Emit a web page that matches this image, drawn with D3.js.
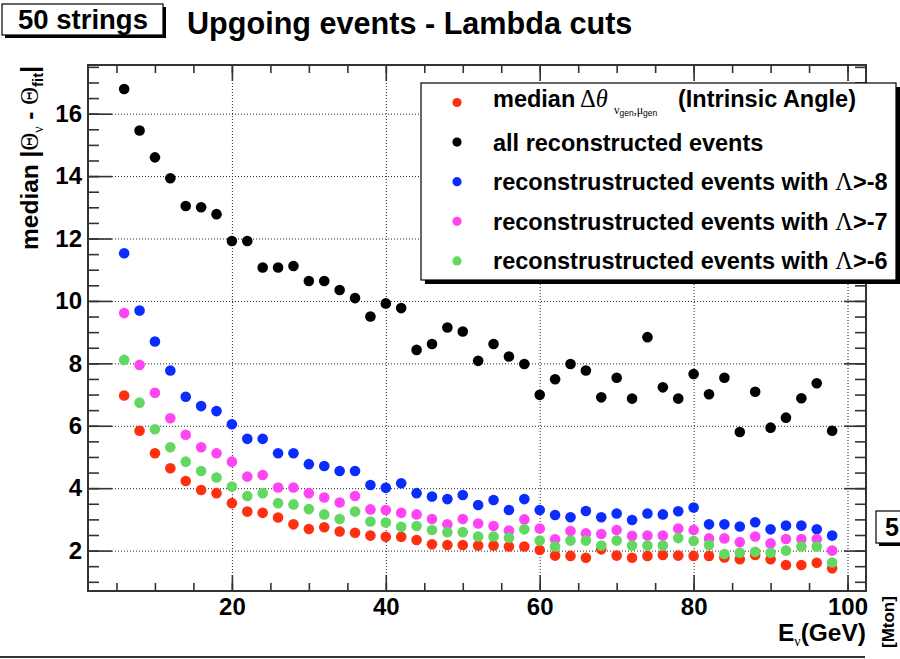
<!DOCTYPE html>
<html>
<head>
<meta charset="utf-8">
<script src="https://cdn.jsdelivr.net/npm/d3@7"></script>
<style>
  body { margin: 0; background: #fff; }
  svg { display: block; }
  text { font-family: "Liberation Sans", Arial, Helvetica, sans-serif; font-weight: bold; fill: #000; }
  .greek { font-family: "Liberation Serif", "DejaVu Serif", serif; font-weight: normal; }
</style>
</head>
<body>
<svg id="chart" width="900" height="659"></svg>
<script>
// Neutrino energy bins (GeV)
const energies = [6, 8, 10, 12, 14, 16, 18, 20, 22, 24, 26, 28, 30, 32, 34, 36, 38, 40, 42, 44,
  46, 48, 50, 52, 54, 56, 58, 60, 62, 64, 66, 68, 70, 72, 74, 76, 78, 80, 82, 84,
  86, 88, 90, 92, 94, 96, 98];

// Median angular differences (degrees) per energy bin
const intrinsic = [6.97, 5.84, 5.12, 4.64, 4.23, 3.94, 3.84, 3.52, 3.25, 3.21, 3.06, 2.84, 2.69, 2.75, 2.61, 2.57, 2.48, 2.44, 2.44, 2.34,
  2.20, 2.18, 2.18, 2.16, 2.16, 2.13, 2.13, 2.02, 1.84, 1.83, 1.77, 2.04, 1.84, 1.77, 1.83, 1.86, 1.84, 1.83, 1.83, 1.78,
  1.72, 1.86, 1.72, 1.54, 1.54, 1.61, 1.43];
const allReco = [16.79, 15.46, 14.60, 13.93, 13.04, 13.00, 12.78, 11.92, 11.92, 11.07, 11.07, 11.12, 10.64, 10.64, 10.35, 10.09, 9.50, 9.92, 9.77, 8.43,
  8.62, 9.15, 9.02, 8.08, 8.62, 8.22, 7.98, 6.99, 7.49, 7.98, 7.77, 6.91, 7.54, 6.87, 8.84, 7.23, 6.87, 7.66, 7.01, 7.54,
  5.80, 7.09, 5.94, 6.26, 6.88, 7.36, 5.84];
const lambda8 = [11.53, 9.69, 8.70, 7.77, 6.93, 6.63, 6.47, 6.05, 5.58, 5.58, 5.12, 5.12, 4.77, 4.71, 4.55, 4.55, 4.10, 4.01, 4.16, 3.84,
  3.73, 3.65, 3.78, 3.46, 3.62, 3.30, 3.65, 3.30, 3.14, 3.07, 3.27, 3.07, 3.19, 2.98, 3.19, 3.16, 3.26, 3.38, 2.84, 2.84,
  2.77, 2.91, 2.68, 2.80, 2.80, 2.68, 2.48];
const lambda7 = [9.61, 7.95, 7.06, 6.24, 5.71, 5.31, 5.12, 4.85, 4.37, 4.42, 4.02, 4.02, 3.84, 3.70, 3.54, 3.75, 3.32, 3.30, 3.21, 3.16,
  3.01, 2.84, 3.01, 2.87, 2.79, 2.64, 3.00, 2.71, 2.36, 2.63, 2.55, 2.53, 2.66, 2.47, 2.48, 2.48, 2.71, 2.66, 2.39, 2.39,
  2.27, 2.45, 2.23, 2.37, 2.37, 2.37, 2.00];
const lambda6 = [8.11, 6.74, 5.89, 5.31, 4.85, 4.55, 4.34, 4.05, 3.75, 3.84, 3.52, 3.48, 3.33, 3.16, 3.01, 3.25, 2.93, 2.90, 2.76, 2.79,
  2.66, 2.59, 2.59, 2.45, 2.45, 2.41, 2.68, 2.32, 2.13, 2.32, 2.32, 2.16, 2.32, 2.16, 2.16, 2.16, 2.40, 2.31, 2.18, 1.89,
  1.93, 1.96, 1.93, 2.00, 2.13, 2.13, 1.62];

const xMajorTicks = [20, 40, 60, 80, 100];
const yMajorTicks = [2, 4, 6, 8, 10, 12, 14, 16];

const series = [
  { key: "intrinsic", values: intrinsic, color: "#ff3010" },
  { key: "all", values: allReco, color: "#000000" },
  { key: "l8", values: lambda8, color: "#0a2cff" },
  { key: "l7", values: lambda7, color: "#ff44f4" },
  { key: "l6", values: lambda6, color: "#62d862" }
];

const svg = d3.select("#chart");
const frame = { left: 88, right: 866, top: 65, bottom: 591 };
const W = frame.right - frame.left, H = frame.bottom - frame.top;

const x = d3.scaleLinear().domain([1.3, 102.4]).range([frame.left, frame.right]);
const y = d3.scaleLinear().domain([0.705, 17.56]).range([frame.bottom, frame.top]);

const xMinor = d3.range(5, 101, 5);
const yMinor = d3.range(1, 17.6, 0.5);

// ---------- grid ----------
function styleGrid(g) {
  g.select(".domain").remove();
  g.selectAll("line").attr("stroke", "#222").attr("stroke-width", 1).attr("stroke-dasharray", "1,2");
}
svg.append("g").attr("transform", `translate(0,${frame.bottom})`)
  .call(d3.axisBottom(x).tickValues(xMajorTicks).tickSize(-H).tickFormat(""))
  .call(styleGrid);
svg.append("g").attr("transform", `translate(${frame.left},0)`)
  .call(d3.axisLeft(y).tickValues(yMajorTicks).tickSize(-W).tickFormat(""))
  .call(styleGrid);

// ---------- frame ----------
svg.append("rect").attr("x", frame.left).attr("y", frame.top).attr("width", W).attr("height", H)
  .attr("fill", "none").attr("stroke", "#333").attr("stroke-width", 2);

// ---------- ticks ----------
function styleTicks(g) {
  g.select(".domain").remove();
  g.selectAll("line").attr("stroke", "#333").attr("stroke-width", 1.6);
}
function styleLabels(g) {
  g.selectAll("text").attr("font-size", 24).attr("font-weight", "bold")
    .attr("font-family", '"Liberation Sans", Arial, sans-serif').attr("fill", "#000");
}
// bottom
svg.append("g").attr("transform", `translate(0,${frame.bottom})`)
  .call(d3.axisBottom(x).tickValues(xMinor).tickSize(-8).tickFormat("")).call(styleTicks);
svg.append("g").attr("transform", `translate(0,${frame.bottom})`)
  .call(d3.axisBottom(x).tickValues(xMajorTicks).tickSize(-16).tickPadding(7).tickFormat(d3.format("d")))
  .call(styleTicks).call(styleLabels);
// top
svg.append("g").attr("transform", `translate(0,${frame.top})`)
  .call(d3.axisTop(x).tickValues(xMinor).tickSize(-8).tickFormat("")).call(styleTicks);
svg.append("g").attr("transform", `translate(0,${frame.top})`)
  .call(d3.axisTop(x).tickValues(xMajorTicks).tickSize(-16).tickFormat("")).call(styleTicks);
// left
svg.append("g").attr("transform", `translate(${frame.left},0)`)
  .call(d3.axisLeft(y).tickValues(yMinor).tickSize(-11).tickFormat("")).call(styleTicks);
svg.append("g").attr("transform", `translate(${frame.left},0)`)
  .call(d3.axisLeft(y).tickValues(yMajorTicks).tickSize(-24).tickPadding(6).tickFormat(d3.format("d")))
  .call(styleTicks).call(styleLabels);
// right
svg.append("g").attr("transform", `translate(${frame.right},0)`)
  .call(d3.axisRight(y).tickValues(yMinor).tickSize(-11).tickFormat("")).call(styleTicks);
svg.append("g").attr("transform", `translate(${frame.right},0)`)
  .call(d3.axisRight(y).tickValues(yMajorTicks).tickSize(-22).tickFormat("")).call(styleTicks);

// ---------- data points ----------
const plot = svg.append("g");
series.forEach(s => {
  plot.append("g").selectAll("circle")
    .data(energies.map((e, i) => ({ e, v: s.values[i] })))
    .join("circle")
    .attr("cx", d => x(d.e))
    .attr("cy", d => y(d.v))
    .attr("r", 5.3)
    .attr("fill", s.color);
});

// ---------- legend ----------
const leg = { x: 421, y: 83, w: 475, h: 197 };
svg.append("rect").attr("x", leg.x + 4).attr("y", leg.y + 4).attr("width", leg.w).attr("height", leg.h).attr("fill", "#000");
svg.append("rect").attr("x", leg.x).attr("y", leg.y).attr("width", leg.w).attr("height", leg.h)
  .attr("fill", "#fff").attr("stroke", "#000").attr("stroke-width", 1.2);

const rowY = i => 102.5 + i * 39.6;
series.forEach((s, i) => {
  svg.append("circle").attr("cx", 457).attr("cy", rowY(i)).attr("r", 4.6).attr("fill", s.color);
});
const LFS = 23.5;
// row 0: median Δθ_{ν_gen,μ_gen} (Intrinsic Angle)
{
  const b = rowY(0) + 4;
  svg.append("text").attr("x", 493).attr("y", b).attr("font-size", LFS).text("median");
  const g = svg.append("text").attr("x", 580).attr("y", b).attr("font-size", LFS + 1).attr("class", "greek");
  g.append("tspan").text("Δ");
  g.append("tspan").attr("font-style", "italic").text("θ");
  const sub = svg.append("text").attr("x", 614).attr("y", b + 7).attr("class", "greek").attr("font-size", 12);
  sub.append("tspan").text("ν");
  sub.append("tspan").attr("dy", 2).attr("font-size", 8.5)
    .attr("style", 'font-family:"Liberation Sans",Arial,sans-serif').text("gen");
  sub.append("tspan").attr("dy", -2).text(",μ");
  sub.append("tspan").attr("dy", 2).attr("font-size", 8.5)
    .attr("style", 'font-family:"Liberation Sans",Arial,sans-serif').text("gen");
  svg.append("text").attr("x", 678).attr("y", b).attr("font-size", LFS).text("(Intrinsic Angle)");
}
svg.append("text").attr("x", 493).attr("y", rowY(1) + 8.5).attr("font-size", LFS).text("all reconstructed events");
["-8", "-7", "-6"].forEach((cut, k) => {
  const t = svg.append("text").attr("x", 493).attr("y", rowY(k + 2) + 8.5).attr("font-size", LFS);
  t.append("tspan").text("reconstrustructed events with ");
  t.append("tspan").attr("class", "greek").attr("font-size", LFS + 1).text("Λ");
  t.append("tspan").text(">" + cut);
});

// ---------- titles ----------
// "50 strings" label box
svg.append("rect").attr("x", 5).attr("y", 7).attr("width", 161).attr("height", 31).attr("fill", "#000");
svg.append("rect").attr("x", 2).attr("y", 4).attr("width", 161).attr("height", 31)
  .attr("fill", "#fff").attr("stroke", "#000").attr("stroke-width", 1.2);
svg.append("text").attr("x", 83).attr("y", 28.5).attr("text-anchor", "middle").attr("font-size", 27.5).text("50 strings");

svg.append("text").attr("x", 187).attr("y", 34).attr("font-size", 30.6).text("Upgoing events - Lambda cuts");

// y-axis title: median |Θ_ν - Θ_fit|
{
  const t = svg.append("text").attr("transform", "translate(38,66) rotate(-90)")
    .attr("text-anchor", "end").attr("font-size", 24.5);
  t.append("tspan").text("median |");
  t.append("tspan").attr("class", "greek").text("Θ");
  t.append("tspan").attr("class", "greek").attr("font-size", 14).attr("dy", 5).text("ν");
  t.append("tspan").attr("dy", -5).text(" - ");
  t.append("tspan").attr("class", "greek").text("Θ");
  t.append("tspan").attr("font-size", 15).attr("dy", 5).text("fit");
  t.append("tspan").attr("dy", -5).text("|");
}

// x-axis title: E_ν(GeV)
{
  const t = svg.append("text").attr("x", 866).attr("y", 641).attr("text-anchor", "end").attr("font-size", 24.5);
  t.append("tspan").text("E");
  t.append("tspan").attr("class", "greek").attr("font-size", 14).attr("dy", 5).text("ν");
  t.append("tspan").attr("dy", -5).text("(GeV)");
}

// bottom separator line
svg.append("line").attr("x1", 0).attr("x2", 865).attr("y1", 657).attr("y2", 657)
  .attr("stroke", "#333").attr("stroke-width", 2);

// neighbouring pad fragments at the right edge
svg.append("rect").attr("x", 879).attr("y", 514).attr("width", 40).attr("height", 32).attr("fill", "#000");
svg.append("rect").attr("x", 876).attr("y", 511).attr("width", 40).attr("height", 32)
  .attr("fill", "#fff").attr("stroke", "#000").attr("stroke-width", 1.2);
svg.append("text").attr("x", 885).attr("y", 536).attr("font-size", 25).text("5");
svg.append("text").attr("transform", "translate(894,648) rotate(-90)").attr("font-size", 17).text("[Mton]");
</script>
</body>
</html>
